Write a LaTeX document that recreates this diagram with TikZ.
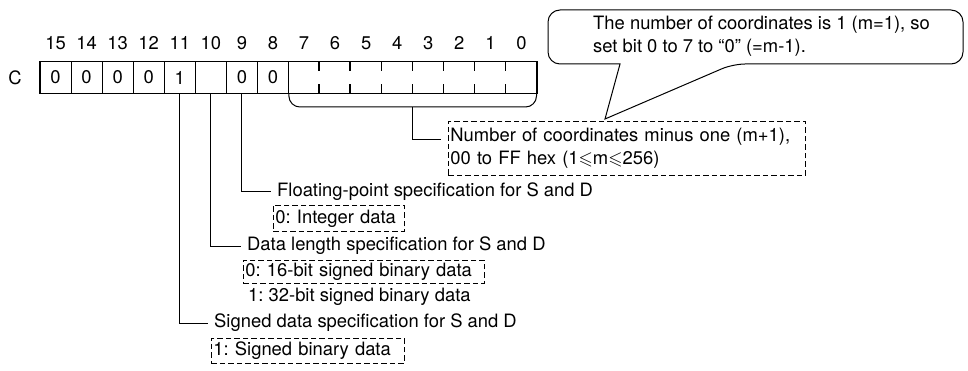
\documentclass[tikz,border=0pt]{standalone}
\usepackage{fontspec}
\setmainfont{TeX Gyre Heros}
\usepackage{amssymb}
\usetikzlibrary{calc}
\frenchspacing

\begin{document}
\begin{tikzpicture}[x=1pt, y=-1pt,
  font=\fontsize{18.4}{23}\selectfont,
  cell/.style={draw, line width=1.1pt, minimum width=31.06pt, minimum height=31.6pt, inner sep=0pt},
  bitnum/.style={inner sep=0pt},
  title/.style={anchor=west, inner xsep=6pt, inner ysep=0pt},
  dbox/.style={draw, dash pattern=on 5.5pt off 3pt, line width=0.9pt, anchor=north west, align=left, inner xsep=2pt, inner ysep=0pt},
  link/.style={draw, line width=1pt},
  tickmark/.style={line width=1.1pt}
]
\useasboundingbox (0,0) rectangle (968,371);

% register C, bits 15..0
\node[bitnum] (reg) at (15,78) {C};
\foreach \i in {0,...,15}
  \node[bitnum] (n\i) at ({40+(15.5-\i)*31.06},43) {\i};
\foreach \i/\v in {15/0,14/0,13/0,12/0,11/1,10/{},9/0,8/0}
  \node[cell] (c\i) at ({40+(15.5-\i)*31.06},77.5) {\v};
\node[cell, minimum width=248.5pt] (low) at (412.7,77.5) {};
\foreach \k in {1,...,7} {
  \draw[tickmark] ([xshift=\k*31.06pt]low.north west) -- ++(0,10);
  \draw[tickmark] ([xshift=\k*31.06pt]low.south west) -- ++(0,-10);
}

% brace under bits 7..0
\coordinate (brace) at (412.7,107);
\draw[link, rounded corners=11pt] ([xshift=1pt]low.south west) -- ([xshift=1pt]low.south west |- brace)
  -- ([xshift=-1pt]low.south east |- brace) -- ([xshift=-1pt]low.south east);

% descriptions
\node[dbox, text width=353pt, minimum height=54pt] (numbox) at (448,121)
  {Number of coordinates minus one (m+1),\\00 to FF hex (1\(\leqslant\)m\(\leqslant\)256)};
\coordinate (numin) at (441,140);

\node[title] (fp) at (271,192) {Floating-point specification for S and D};
\node[dbox, text width=127pt, minimum height=26pt] (fpbox) at (273,205) {0: Integer data};

\node[title] (dl) at (241,246) {Data length specification for S and D};
\node[dbox, text width=237pt, minimum height=23pt] (dlbox) at (243,260) {0: 16-bit signed binary data};
\node[anchor=west, inner sep=0pt] (dl1) at (248,297) {1: 32-bit signed binary data};

\node[title] (sg) at (208,323) {Signed data specification for S and D};
\node[dbox, text width=189pt, minimum height=25pt] (sgbox) at (211,338) {1: Signed binary data};

\draw[link] (brace) |- (numin);
\draw[link] (c9.south) |- (fp.west);
\draw[link] (c10.south) |- (dl.west);
\draw[link] (c11.south) |- (sg.west);

% callout
\node[anchor=west, align=left, inner sep=0pt] (note) at (593,36)
  {The number of coordinates is 1 (m=1), so\\set bit 0 to 7 to “0” (=m-1).};
\draw[link] (620,64) [rounded corners=12pt] -- (548,64) -- (548,10) -- (963,10) -- (963,64)
  -- (733,64) [sharp corners] -- (605,119) -- cycle;
\end{tikzpicture}
\end{document}
